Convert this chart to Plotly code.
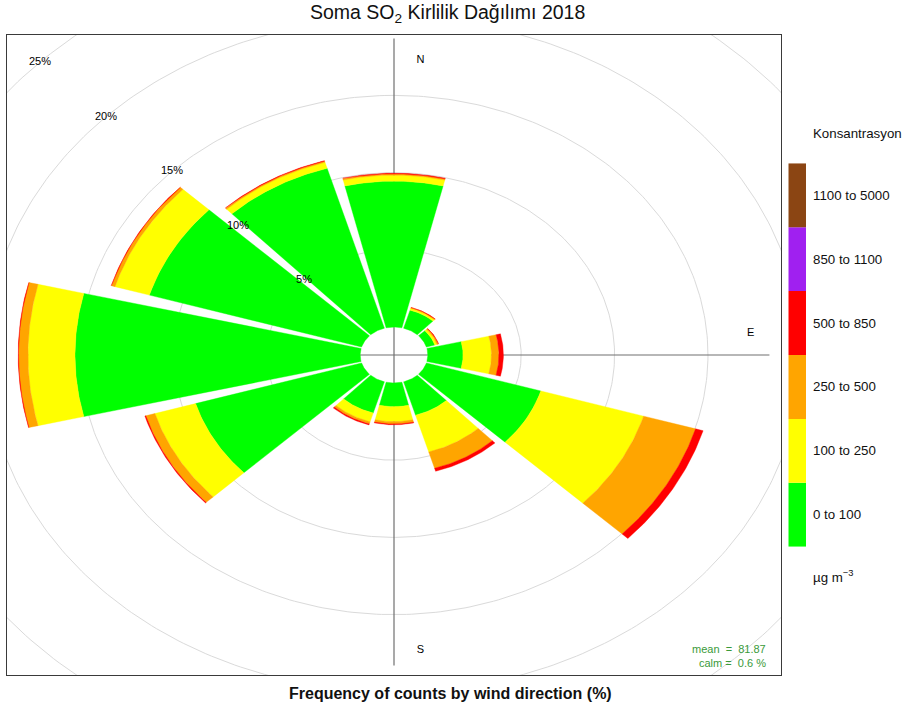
import numpy as np
import plotly.graph_objects as go

# ---- data: frequency (%) of hourly records per wind sector and SO2 band ----
wind_dir = [0, 30, 60, 90, 120, 150, 180, 210, 240, 270, 300, 330]
band_labels = ["0 to 100", "100 to 250", "250 to 500", "500 to 850",
               "850 to 1100", "1100 to 5000"]
band_colours = ["#00FF00", "#FFFF00", "#FFA500", "#FF0000", "#A020F0", "#8B4513"]

freq_0_100     = [9.45, 1.22, 0.47, 1.89, 6.39, 2.26, 1.54, 2.11, 9.27, 15.27, 11.85, 10.80]
freq_100_250   = [0.39, 0.12, 0.12, 1.52, 5.74, 2.48, 0.97, 0.59, 2.27, 2.52, 1.92, 0.40]
freq_250_500   = [0.08, 0.05, 0.07, 0.40, 2.90, 1.10, 0.15, 0.14, 0.51, 0.50, 0.19, 0.08]
freq_500_850   = [0.04, 0.01, 0.02, 0.24, 0.42, 0.20, 0.05, 0.07, 0.05, 0.02, 0.02, 0.03]
freq_850_1100  = [0.0] * 12
freq_1100_5000 = [0.0] * 12

grid_pct = [5, 10, 15, 20, 25]
compass = ["N", "E", "S", "W"]
mean_conc = 81.87
calm_pct = 0.6

# ---- geometry of the rose ----
OFFSET = 1.81          # radius of the empty centre, in % units
SECTOR = 30.0          # sector width in degrees
SEG = 0.9              # fraction of the sector covered by a petal
AX_LIM = 20.72         # half-range of both axes
LAB_R, LAB_SHIFT = 19.1, 1.42   # compass letter placement

W, H = 903, 713
px_l, px_r, px_t, px_b = 7, 781, 35, 675
FONT = "Liberation Sans, Arial, Helvetica, sans-serif"


def sector_xy(angle, r0, r1, n=48):
    half = SEG * SECTOR / 2.0
    th = np.radians(np.linspace(angle - half, angle + half, n))
    xo, yo = r1 * np.sin(th), r1 * np.cos(th)
    xi, yi = r0 * np.sin(th[::-1]), r0 * np.cos(th[::-1])
    xs = np.concatenate([xo, xi, xo[:1]])
    ys = np.concatenate([yo, yi, yo[:1]])
    return list(xs), list(ys)


fig = go.Figure()

# grid rings
t = np.linspace(0, 2 * np.pi, 400)
for p in grid_pct:
    r = p + OFFSET
    fig.add_trace(go.Scatter(x=r * np.sin(t), y=r * np.cos(t), mode="lines",
                             line=dict(color="#DADADA", width=1),
                             hoverinfo="skip", showlegend=False))

# compass cross
L = 20.1
fig.add_trace(go.Scatter(x=[-L, L, None, 0, 0], y=[0, 0, None, -L, L + 0.4],
                         mode="lines", line=dict(color="#707070", width=1.2),
                         hoverinfo="skip", showlegend=False))

# compass letters (drawn beneath the petals)
cx = [LAB_SHIFT, LAB_R, LAB_SHIFT, -LAB_R]
cy = [LAB_R, LAB_SHIFT, -LAB_R, LAB_SHIFT]
fig.add_trace(go.Scatter(x=cx, y=cy, mode="text", text=compass,
                         textfont=dict(family=FONT, size=11, color="#000000"),
                         hoverinfo="skip", showlegend=False))

# stacked petals, one trace per concentration band
bands = [freq_0_100, freq_100_250, freq_250_500, freq_500_850,
         freq_850_1100, freq_1100_5000]
cum = np.zeros(len(wind_dir))
for label, colour, vals in zip(band_labels, band_colours, bands):
    vals = np.array(vals, dtype=float)
    xs, ys = [], []
    for i, ang in enumerate(wind_dir):
        if vals[i] <= 0:
            continue
        r0 = OFFSET + cum[i]
        r1 = OFFSET + cum[i] + vals[i]
        sx, sy = sector_xy(ang, r0, r1)
        xs += sx + [None]
        ys += sy + [None]
    cum += vals
    if xs:
        fig.add_trace(go.Scatter(x=xs, y=ys, mode="lines", fill="toself",
                                 fillcolor=colour,
                                 line=dict(color=colour, width=0.4),
                                 name=label, hoverinfo="skip", showlegend=False))

# ring labels along the NW diagonal
a = np.radians(315)
fig.add_trace(go.Scatter(
    x=[(p + OFFSET) * np.sin(a) for p in grid_pct],
    y=[(p + OFFSET) * np.cos(a) for p in grid_pct],
    mode="text", text=[f"{p}%" for p in grid_pct],
    textfont=dict(family=FONT, size=11, color="#000000"),
    hoverinfo="skip", showlegend=False))

# colour key as a stacked bar on its own axes
fig.add_trace(go.Bar(x=[0] * len(band_labels), y=[1] * len(band_labels),
                     base=list(range(len(band_labels))),
                     marker=dict(color=band_colours, line=dict(width=0)),
                     width=1, xaxis="x2", yaxis="y2",
                     hoverinfo="skip", showlegend=False))

key_l, key_r, key_t, key_b = 788.3, 806.0, 163.3, 546.7
KEY_FONT = dict(family=FONT, size=13.3, color="#111111")
annotations = []
for k, lab in enumerate(band_labels):
    ypx = key_b - (k + 0.5) * (key_b - key_t) / len(band_labels)
    annotations.append(dict(x=811 / W, y=1 - ypx / H, xref="paper", yref="paper",
                            text=lab, showarrow=False, xanchor="left",
                            yanchor="middle", font=KEY_FONT))
annotations += [
    dict(x=811 / W, y=1 - 133 / H, xref="paper", yref="paper",
         text="Konsantrasyon", showarrow=False, xanchor="left", yanchor="middle",
         font=KEY_FONT),
    dict(x=811 / W, y=1 - 576 / H, xref="paper", yref="paper",
         text="µg m<sup>−3</sup>", showarrow=False, xanchor="left",
         yanchor="middle", font=KEY_FONT),
    dict(x=447 / W, y=1 - 13 / H, xref="paper", yref="paper",
         text="Soma SO<sub>2</sub> Kirlilik Dağılımı 2018", showarrow=False,
         xanchor="center", yanchor="middle",
         font=dict(family=FONT, size=19.5, color="#111111")),
    dict(x=450 / W, y=1 - 693 / H, xref="paper", yref="paper",
         text="<b>Frequency of counts by wind direction (%)</b>", showarrow=False,
         xanchor="center", yanchor="middle",
         font=dict(family=FONT, size=16, color="#111111")),
    dict(x=768 / W, y=1 - 649 / H, xref="paper", yref="paper",
         text=f"mean  =  {mean_conc:.2f}", showarrow=False, xanchor="right",
         yanchor="middle", font=dict(family=FONT, size=11, color="#3A9A3A")),
    dict(x=768 / W, y=1 - 663 / H, xref="paper", yref="paper",
         text=f"calm =  {calm_pct} %", showarrow=False, xanchor="right",
         yanchor="middle", font=dict(family=FONT, size=11, color="#3A9A3A")),
]

fig.update_layout(
    width=W, height=H, margin=dict(l=0, r=0, t=0, b=0),
    paper_bgcolor="white", plot_bgcolor="white",
    xaxis=dict(domain=[px_l / W, px_r / W], range=[-AX_LIM, AX_LIM],
               showgrid=False, zeroline=False, showticklabels=False, ticks="",
               showline=True, mirror=True, linecolor="#3A3A3A", linewidth=1),
    yaxis=dict(domain=[1 - px_b / H, 1 - px_t / H], range=[-AX_LIM, AX_LIM],
               showgrid=False, zeroline=False, showticklabels=False, ticks="",
               showline=True, mirror=True, linecolor="#3A3A3A", linewidth=1),
    xaxis2=dict(domain=[key_l / W, key_r / W], range=[-0.5, 0.5], visible=False,
                anchor="y2", fixedrange=True),
    yaxis2=dict(domain=[1 - key_b / H, 1 - key_t / H], range=[0, len(band_labels)],
                visible=False, anchor="x2", fixedrange=True),
    annotations=annotations,
    showlegend=False,
)

fig.write_html("out.html")
